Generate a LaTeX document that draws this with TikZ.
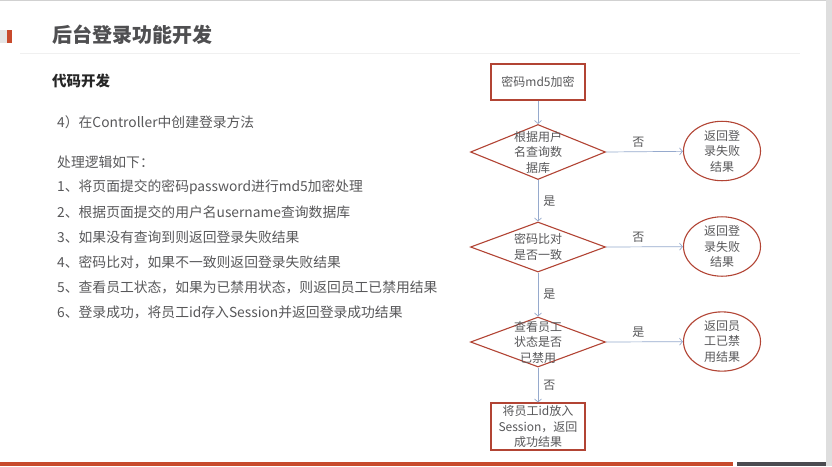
\documentclass[tikz,border=0pt]{standalone}
\usepackage{fontspec}
\setmainfont{Noto Sans CJK SC}
\definecolor{frame}{RGB}{178,68,52}
\definecolor{link}{RGB}{150,170,205}
\definecolor{ink}{RGB}{88,88,90}
\definecolor{bar}{RGB}{200,74,44}
\definecolor{slate}{RGB}{75,75,80}
\usetikzlibrary{arrows.meta,shapes.geometric,positioning}

\begin{document}
\begin{tikzpicture}[x=1pt,y=-1pt,
    txt/.style={font=\fontsize{13.8}{16}\selectfont,text=ink,anchor=west,inner sep=0pt},
    small/.style={font=\fontsize{12}{15.5}\selectfont,text=ink,align=center,inner sep=0pt},
    proc/.style={draw=frame,line width=1.1pt,minimum width=94pt,small},
    decision/.style={diamond,draw=frame,line width=1.1pt,minimum width=135pt,minimum height=50pt,inner sep=0pt},
    result/.style={ellipse,draw=frame,line width=1.1pt,minimum width=77pt,minimum height=58pt,small},
    flow/.style={link,line width=0.7pt,-{Straight Barb[length=3pt,width=7pt]}},
    lab/.style={small}]
  \useasboundingbox (0,0) rectangle (832,466);
  % slide frame
  \fill[white] (0,0) rectangle (826,466);
  \fill[black!13] (826,0) rectangle (832,466);
  \draw[black!18,line width=1.2pt] (0,0.6) -- (826,0.6);
  \fill[black!10] (0,30) rectangle (7,43);
  \fill[bar] (7,30) rectangle (12,43);
  \draw[black!6,line width=0.8pt] (20,53) -- (800,53);
  \fill[bar] (0,462) rectangle (733,466);
  \fill[slate] (737,462) rectangle (826,466);

  \node[anchor=west,inner sep=0pt,text=ink!90!black,font=\fontsize{20}{24}\selectfont\bfseries] (title) at (52,35) {后台登录功能开发};
  \node[anchor=west,inner sep=0pt,text=black!85,font=\fontsize{14.5}{17}\selectfont\bfseries] (sub) at (52,81) {代码开发};
  \node[txt] (task) at (57,122) {4）在Controller中创建登录方法};
  \node[txt] (logic) at (57,162) {处理逻辑如下：};
  \foreach \t [count=\i] in {1、将页面提交的密码password进行md5加密处理,
      2、根据页面提交的用户名username查询数据库,
      3、如果没有查询到则返回登录失败结果,
      4、密码比对，如果不一致则返回登录失败结果,
      5、查看员工状态，如果为已禁用状态，则返回员工已禁用结果,
      6、登录成功，将员工id存入Session并返回登录成功结果}
    \node[txt] (item\i) at (57,{162+25*\i}) {\t};

  % flow chart
  \node[proc,minimum height=36pt] (md5) at (538,82) {密码md5加密};
  \node[decision,minimum height=55pt] (q1) at (538,152) {};
  \node[small] (q1t) at (q1) {根据用户\\名查询数\\据库};
  \node[decision] (q2) at (538,247) {};
  \node[small] (q2t) at (q2) {密码比对\\是否一致};
  \node[decision] (q3) at (538,342) {};
  \node[small] (q3t) at (q3) {查看员工\\状态是否\\已禁用};
  \node[proc,minimum height=47pt] (done) at (538,426.5) {将员工id放入\\Session，返回\\成功结果};
  \node[result] (r1) at (722,151) {返回登\\录失败\\结果};
  \node[result] (r2) at (722,246.5) {返回登\\录失败\\结果};
  \node[result] (r3) at (722,341.5) {返回员\\工已禁\\用结果};

  \draw[flow] (md5) -- (q1);
  \draw[flow] (q1) -- node[lab,right=5pt]{是} (q2);
  \draw[flow] (q2) -- node[lab,right=5pt]{是} (q3);
  \draw[flow] (q3) -- node[lab,right=5pt]{否} (done);
  \draw[flow] (q1.east) -- node[lab,above=4pt,pos=0.42]{否} (r1);
  \draw[flow] (q2.east) -- node[lab,above=4pt,pos=0.42]{否} (r2);
  \draw[flow] (q3.east) -- node[lab,above=4pt,pos=0.42]{是} (r3);
\end{tikzpicture}
\end{document}
